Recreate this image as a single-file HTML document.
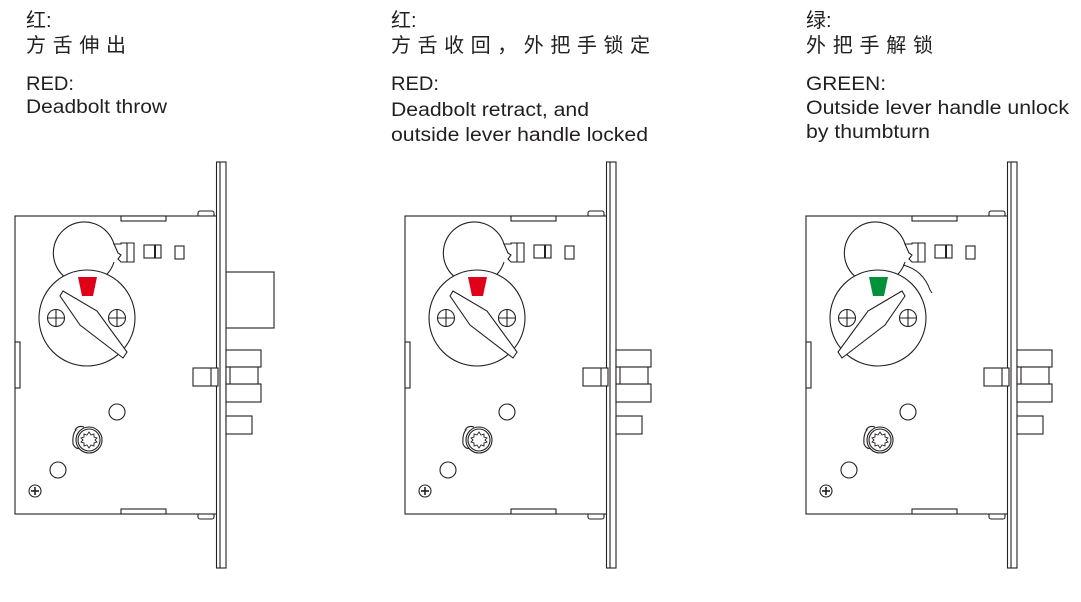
<!DOCTYPE html>
<html><head><meta charset="utf-8"><style>
html,body{margin:0;padding:0;background:#fff;width:1081px;height:602px;overflow:hidden}
svg{position:absolute;left:0;top:0}
.cn{font-family:"Liberation Sans","Noto Sans CJK SC",sans-serif;font-size:20px;fill:#231f20}
.en{font-family:"Liberation Sans",sans-serif;font-size:19px;fill:#231f20}
</style></head><body>
<svg width="1081" height="602" viewBox="0 0 1081 602" xmlns="http://www.w3.org/2000/svg">
<defs>
<g id="base" fill="#fff" stroke="#231f20" stroke-width="1.1">
  <rect x="198" y="211" width="16" height="6" rx="2"/>
  <rect x="198" y="513" width="16" height="6" rx="2"/>
  <rect x="15" y="216" width="203" height="298"/>
  <rect x="121" y="216" width="45" height="5"/>
  <rect x="121" y="509" width="45" height="5"/>
  <rect x="15" y="342" width="5" height="46"/>
  <rect x="216.5" y="162" width="9.5" height="406"/>
  <line x1="220" y1="162" x2="220" y2="568"/>
  <rect x="226" y="350" width="35" height="17"/>
  <rect x="226" y="384" width="35" height="18"/>
  <rect x="226" y="367" width="32" height="17"/>
  <line x1="230" y1="367" x2="230" y2="384"/>
  <rect x="193" y="368" width="25" height="18"/>
  <line x1="211" y1="368" x2="211" y2="386"/>
  <rect x="226" y="416" width="26" height="18"/>
  <!-- upper circle -->
  <path d="M114 244 A31 31 0 1 0 114 262" fill="none"/>
  <path d="M114 244 L121 244 L121 243 L134 243 L134 262 L121 262 L118 259 L121 255 L118 253 Z"/>
  <line x1="127" y1="243" x2="127" y2="262"/>
  <rect x="144" y="245" width="17" height="13"/>
  <line x1="155" y1="245" x2="155" y2="258" stroke-width="2"/>
  <rect x="175" y="246" width="9" height="13"/>
  <circle cx="87" cy="318" r="48"/>
  <circle cx="56" cy="318" r="8.5"/>
  <line x1="47.5" y1="318" x2="64.5" y2="318"/><line x1="56" y1="309.5" x2="56" y2="326.5"/>
  <circle cx="117" cy="318" r="8.5"/>
  <line x1="108.5" y1="318" x2="125.5" y2="318"/><line x1="117" y1="309.5" x2="117" y2="326.5"/>
  <circle cx="117" cy="412" r="8"/>
  <circle cx="58" cy="470" r="8"/>
  <path d="M78 428 Q72 432 73 444 Q76 450 80 448"/>
  <path d="M75 430 Q78 425 84 427"/>
  <circle cx="89" cy="440" r="13"/>
  <circle cx="89" cy="440" r="11"/>
  <path d="M89 432 l2 3 3-1 0 3 3 1-2 2 2 2-3 1 0 3-3-1-2 3-2-3-3 1 0-3-3-1 2-2-2-2 3-1 0-3 3 1z" stroke-width="0.9"/>
  <circle cx="35" cy="491" r="6"/>
  <line x1="31" y1="491" x2="39" y2="491" stroke-width="1.6"/><line x1="35" y1="487" x2="35" y2="495" stroke-width="1.6"/>
</g>
<path id="lever" d="M60 296 L63 291 L97 311 L127 352 L123 358 L80 325 Z" fill="#fff" stroke="#231f20" stroke-width="1.1"/>
<path id="trap" d="M78 277 L97 277 L93 296 L82 296 Z"/>
</defs>

<rect x="226" y="272" width="48" height="56" fill="#fff" stroke="#231f20" stroke-width="1.1"/>
<use href="#base"/>
<use href="#trap" fill="#e1001a"/>
<use href="#lever"/>

<g transform="translate(390,0)">
<use href="#base"/>
<use href="#trap" fill="#e1001a"/>
<use href="#lever"/>
</g>

<g transform="translate(791,0)">
<use href="#base"/>
<use href="#trap" fill="#00913a"/>
<g transform="translate(174,0) scale(-1,1)"><use href="#lever"/></g>
<path d="M112 265 Q132 270 139 290 L141 293" fill="none" stroke="#231f20" stroke-width="1"/>
</g>

<text class="cn" x="26" y="27">红:</text>
<text class="cn" x="26" y="52" textLength="100" lengthAdjust="spacing">方舌伸出</text>
<text class="en" x="26" y="90" textLength="48" lengthAdjust="spacingAndGlyphs">RED:</text>
<text class="en" x="26" y="113" textLength="141" lengthAdjust="spacingAndGlyphs">Deadbolt throw</text>

<text class="cn" x="391" y="27">红:</text>
<text class="cn" x="391" y="52" textLength="259" lengthAdjust="spacing">方舌收回，外把手锁定</text>
<text class="en" x="391" y="90" textLength="48" lengthAdjust="spacingAndGlyphs">RED:</text>
<text class="en" x="391" y="116" textLength="198" lengthAdjust="spacingAndGlyphs">Deadbolt retract, and</text>
<text class="en" x="391" y="141" textLength="257" lengthAdjust="spacingAndGlyphs">outside lever handle locked</text>

<text class="cn" x="806" y="27">绿:</text>
<text class="cn" x="806" y="52" textLength="127" lengthAdjust="spacing">外把手解锁</text>
<text class="en" x="806" y="90" textLength="80" lengthAdjust="spacingAndGlyphs">GREEN:</text>
<text class="en" x="806" y="114" textLength="263" lengthAdjust="spacingAndGlyphs">Outside lever handle unlock</text>
<text class="en" x="806" y="138" textLength="124" lengthAdjust="spacingAndGlyphs">by thumbturn</text>
</svg>
</body></html>
